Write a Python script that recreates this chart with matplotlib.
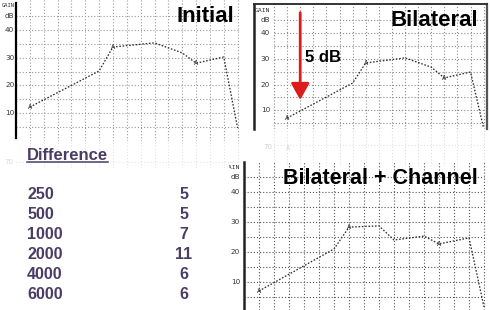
import matplotlib
matplotlib.use("Agg")
import matplotlib.pyplot as plt
from matplotlib.lines import Line2D
from matplotlib.transforms import Bbox, TransformedBbox

# ---------------- data ----------------
initial_x = [1, 6, 7, 10, 12, 13, 15, 16]
initial_gain = [12.2, 25.2, 33.8, 35.3, 31.7, 28.0, 30.2, 4.7]

bilateral_x = [1, 6, 7, 10, 12, 13, 15, 16]
bilateral_gain = [7.0, 20.6, 28.4, 30.4, 26.8, 22.6, 24.9, 3.1]

channel_x = [1, 6, 7, 9, 10, 12, 13, 15, 16]
channel_gain = [7.0, 21.0, 28.3, 28.7, 24.0, 25.3, 22.7, 24.7, 1.7]

marker_cols = [1, 7, 13]          # columns carrying the "A" marker
gain_ticks = [10, 20, 30, 40]
grid_gain = [5, 10, 15, 20, 25, 30, 35, 40, 45]
grid_cols = list(range(1, 17))

diff_freqs = ["250", "500", "1000", "2000", "4000", "6000"]
diff_values = [5, 5, 7, 11, 6, 6]

titles = ["Initial", "Bilateral", "Bilateral + Channel"]

# ---------------- figure ----------------
W, H = 490, 310
fig = plt.figure(figsize=(W / 100, H / 100), dpi=100)
fig.patch.set_facecolor("white")

PURPLE = "#4b3c66"
RED = "#dc1c1c"
BOLD = dict(family="Liberation Sans", weight="bold")
DOT = (0, (1, 1.8))


def fx(x):
    return x / W


def fy(y):
    return 1 - y / H


def make_axes(l, r, t, b, col0, sp, zero, pxdb):
    ax = fig.add_axes([fx(l), fy(b), (r - l) / W, (b - t) / H])
    ax.set_xlim((l - col0) / sp, (r - col0) / sp)
    ax.set_ylim((zero - b) / pxdb, (zero - t) / pxdb)
    ax.set_facecolor("none")
    for s in ax.spines.values():
        s.set_visible(False)
    ax.set_xticks([])
    ax.set_yticks([])
    return ax


def draw_grid(ax, color, cols, lw=0.8):
    for g in grid_gain:
        ax.plot([0, 16], [g, g], color=color, lw=lw, ls=DOT, zorder=1)
    y0, y1 = ax.get_ylim()
    for c in cols:
        ax.plot([c, c], [y0, y1], color=color, lw=lw, ls=DOT, zorder=1)


def draw_curve(ax, xs, ys):
    ax.plot(xs, ys, color="#2e2e2e", lw=0.95, ls=(0, (1.2, 1.3)), zorder=3)
    for x, y in zip(xs, ys):
        if x in marker_cols:
            ax.text(x, y, "A", ha="center", va="center", fontsize=5.2,
                    family="DejaVu Sans Mono", color="#333333", zorder=4)


def draw_labels(ax, xcol, gain_y, db_y=45, gain_size=4.6):
    for t in gain_ticks:
        ax.text(xcol, t, str(t), ha="right", va="center", fontsize=5.2,
                family="DejaVu Sans", color="#333333", clip_on=False)
    ax.text(xcol, db_y, "dB", ha="right", va="center", fontsize=5.2,
            family="DejaVu Sans", color="#333333", clip_on=False)
    return ax.text(xcol, gain_y, "GAIN", ha="right", va="center",
                   fontsize=gain_size, family="DejaVu Sans Mono",
                   color="#333333", clip_on=False)


# ---- Panel 1 : Initial ----
ax1 = make_axes(15, 240, 0, 141, col0=16, sp=13.85, zero=141, pxdb=2.78)
draw_grid(ax1, "#9a9a9a", grid_cols)
ax1.spines["left"].set_visible(True)
ax1.spines["left"].set_linewidth(1.6)
ax1.spines["left"].set_position(("data", 0))
ax1.spines["left"].set_bounds(1.1, 49.5)
draw_curve(ax1, initial_x, initial_gain)
draw_labels(ax1, -0.12, 48.9, gain_size=3.9)

# ghost under panel 1
g1 = make_axes(16, 240, 141, 168, col0=16, sp=13.85, zero=141, pxdb=2.78)
for c in grid_cols:
    g1.plot([c, c], list(g1.get_ylim()), color="#e2e2e2", lw=0.8, ls=DOT)
g1.plot([0, 16], [-7.5, -7.5], color="#e6e6e6", lw=0.8, ls=DOT)
fig.text(fx(13), fy(162), "70", ha="right", va="center", fontsize=5,
         color="#d8d8d8")

# ---- Panel 2 : Bilateral ----
ax2 = make_axes(254, 487, 4, 129, col0=274, sp=13.1, zero=136, pxdb=2.57)
draw_grid(ax2, "#8a8a8a", [0] + grid_cols)
for side, lw, col in [("left", 1.8, "#222222"), ("top", 1.4, "#333333"),
                      ("right", 1.6, "#555555")]:
    ax2.spines[side].set_visible(True)
    ax2.spines[side].set_linewidth(lw)
    ax2.spines[side].set_color(col)
draw_curve(ax2, bilateral_x, bilateral_gain)
draw_labels(ax2, -0.3, 49.0)
ax2.annotate("", xy=(2, 14), xytext=(2, 48),
             arrowprops=dict(arrowstyle="-|>,head_width=0.55,head_length=1.0",
                             color=RED, lw=2.0, shrinkA=0, shrinkB=0),
             zorder=6)
fig.text(fx(305), fy(62), "5 dB", ha="left", va="baseline", fontsize=12,
         color="black", **BOLD)

# ghost under panel 2
g2 = make_axes(255, 487, 130, 166, col0=274, sp=13.1, zero=136, pxdb=2.57)
for c in [0] + grid_cols:
    g2.plot([c, c], list(g2.get_ylim()), color="#dedede", lw=0.8, ls=DOT)
g2.plot([0, 16], [-3.5, -3.5], color="#e4e4e4", lw=0.8, ls=DOT)
fig.text(fx(272), fy(147), "70", ha="right", va="center", fontsize=5,
         color="#cfcfcf")
fig.text(fx(288), fy(148), "A", ha="center", va="center", fontsize=5,
         family="DejaVu Sans Mono", color="#d6d6d6")

# ---- Panel 3 : Bilateral + Channel ----
ax3 = make_axes(243, 490, 162, 310, col0=244, sp=15.0, zero=312, pxdb=3.0)
draw_grid(ax3, "#555555", grid_cols)
ax3.spines["left"].set_visible(True)
ax3.spines["left"].set_linewidth(1.8)
ax3.spines["left"].set_color("#222222")
ax3.spines["left"].set_position(("data", -0.03))
draw_curve(ax3, channel_x, channel_gain)
gl3 = draw_labels(ax3, -0.27, 48.3)
gl3.set_clip_box(TransformedBbox(Bbox([[fx(228.5), 0], [1, 1]]), fig.transFigure))
gl3.set_clip_on(True)

# ---- titles ----
fig.text(fx(176), fy(22.5), titles[0], ha="left", va="baseline", fontsize=16,
         color="black", **BOLD, zorder=10)
fig.text(fx(390), fy(26), titles[1], ha="left", va="baseline", fontsize=16,
         color="black", **BOLD, zorder=10)
fig.text(fx(283), fy(183.5), titles[2], ha="left", va="baseline", fontsize=15.5,
         color="black", **BOLD, zorder=10)

# ---- Difference table ----
fig.text(fx(27), fy(159.5), "Difference", ha="left", va="baseline", fontsize=12,
         color=PURPLE, **BOLD)
fig.add_artist(Line2D([fx(27), fx(107.5)], [fy(161.8), fy(161.8)],
                      color=PURPLE, lw=1.1))
for i, (f, d) in enumerate(zip(diff_freqs, diff_values)):
    yb = 199 + 20 * i
    fig.text(fx(27), fy(yb), f, ha="left", va="baseline", fontsize=11.5,
             color=PURPLE, **BOLD)
    fig.text(fx(184), fy(yb), str(d), ha="center", va="baseline", fontsize=11.5,
             color=PURPLE, **BOLD)

fig.savefig("out.png", dpi=100, facecolor="white")
